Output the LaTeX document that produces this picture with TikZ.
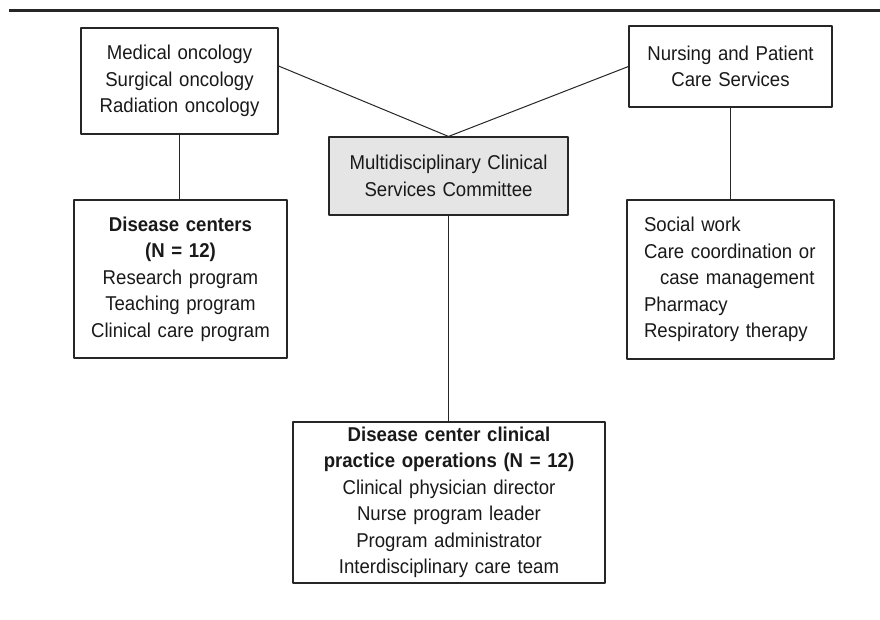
\documentclass[tikz,border=0pt]{standalone}
\usepackage{fontspec}
\setmainfont[FakeStretch=0.93]{Liberation Sans}

\begin{document}
\begin{tikzpicture}[x=1pt,y=-1pt,line cap=round,line join=round,
    orgbox/.style={draw=black!85,line width=1.1pt,inner xsep=0pt,inner ysep=0pt,
      align=center,text=black!90,font=\fontsize{20}{26.5}\selectfont},
    link/.style={draw=black!85,line width=1pt}]
 	\useasboundingbox (0,0) rectangle (880,620);
 	\draw [line width=3pt,black!85,line cap=butt] (9,11) -- (880,11);
 	% top row
 	\node [orgbox,text width=197pt,minimum height=106pt] (onc) at (179.5,81)
 	  {Medical oncology\\Surgical oncology\\Radiation oncology};
 	\node [orgbox,text width=203pt,minimum height=81pt] (nursing) at (730.5,66.5)
 	  {Nursing and Patient\\Care Services};
 	\node [orgbox,fill=black!10,text width=239pt,minimum height=78pt] (committee) at (448.5,176)
 	  {Multidisciplinary Clinical\\Services Committee};
 	% second row
 	\node [orgbox,text width=213pt,minimum height=158pt] (centers) at (180.5,279)
 	  {\textbf{Disease centers}\\\textbf{(N = 12)}\\Research program\\Teaching program\\Clinical care program};
 	\node [orgbox,align=left,inner xsep=17pt,text width=173pt,minimum height=159pt] (support) at (730.5,279.5)
 	  {Social work\\Care coordination or\\\hspace*{16pt}case management\\Pharmacy\\Respiratory therapy};
 	\node [orgbox,text width=312pt,minimum height=161pt] (operations) at (449,502.5)
 	  {\textbf{Disease center clinical}\\\textbf{practice operations (N = 12)}\\Clinical physician director\\Nurse program leader\\Program administrator\\Interdisciplinary care team};
 	% links
 	\draw [link] ([yshift=15pt]onc.east) -- (committee.north);
 	\draw [link] (nursing.west) -- (committee.north);
 	\draw [link] (onc.south) -- (onc.south |- centers.north);
 	\draw [link] (nursing.south) -- (nursing.south |- support.north);
 	\draw [link] (committee.south) -- (committee.south |- operations.north);
\end{tikzpicture}
\end{document}
